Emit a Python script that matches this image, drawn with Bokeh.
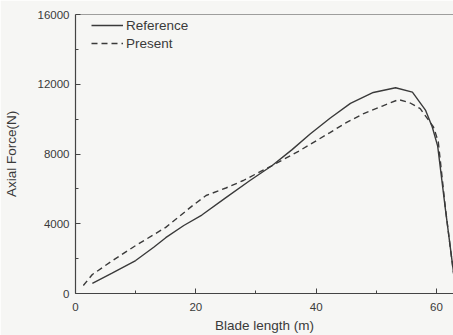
from bokeh.plotting import figure
from bokeh.models import Range1d, FixedTicker, Span, Legend, LegendItem
from bokeh.embed import file_html
from bokeh.resources import INLINE

# Data
ref_x = [2.8, 6, 10, 13, 15, 18, 21, 25, 29, 32.7, 36, 39, 42.3, 45.7, 49.5, 53.2, 56, 58.2, 59.3, 60.2, 61.5, 62.8, 63.3]
ref_y = [580, 1150, 1890, 2650, 3200, 3900, 4500, 5500, 6480, 7340, 8250, 9150, 10050, 10900, 11530, 11800, 11550, 10500, 9550, 8450, 4800, 1300, 0]

pres_x = [1.3, 2.8, 6, 10, 15, 19.5, 21.7, 25, 27.9, 30, 32.7, 37.3, 42.3, 45, 47.9, 51, 53.7, 55.5, 57.3, 59.5, 60.3, 61.5, 62.8, 63.3]
pres_y = [460, 1090, 1850, 2750, 3790, 5050, 5620, 6050, 6480, 6860, 7340, 8200, 9230, 9800, 10320, 10750, 11120, 10950, 10600, 9550, 8700, 4850, 1250, 0]

x_major = [0, 20, 40, 60]
x_minor = [10, 30, 50]
y_major = [0, 4000, 8000, 12000, 16000]
y_minor = [2000, 6000, 10000, 14000]

FONT = "Liberation Sans"
INK = "#3a3a3a"
BG = "#f6f6f4"

p = figure(width=453, height=335, output_backend="svg", toolbar_location=None,
           x_range=Range1d(0, 62.83), y_range=Range1d(0, 16000),
           min_border_top=14, min_border_right=0, min_border_left=0, min_border_bottom=0)
p.background_fill_color = BG
p.border_fill_color = BG
p.outline_line_color = None
p.grid.visible = False

r_ref = p.line(ref_x, ref_y, line_color=INK, line_width=1.4)
r_pres = p.line(pres_x, pres_y, line_color=INK, line_width=1.4, line_dash="6 4")

p.xaxis.ticker = FixedTicker(ticks=x_major, minor_ticks=x_minor)
p.yaxis.ticker = FixedTicker(ticks=y_major, minor_ticks=y_minor)

for ax in (p.xaxis[0], p.yaxis[0]):
    ax.axis_line_color = "#444444"
    ax.axis_line_width = 1.2
    ax.major_tick_in = 5
    ax.major_tick_out = 0
    ax.minor_tick_in = 3
    ax.minor_tick_out = 0
    ax.major_tick_line_color = "#444444"
    ax.minor_tick_line_color = "#444444"
    ax.major_label_text_font = FONT
    ax.major_label_text_font_size = "11.5px"
    ax.major_label_text_color = INK
    ax.axis_label_text_font = FONT
    ax.axis_label_text_font_size = "13.5px"
    ax.axis_label_text_font_style = "normal"
    ax.axis_label_text_color = INK

p.xaxis.axis_label = "Blade length (m)"
p.yaxis.axis_label = "Axial Force(N)"
p.xaxis.major_label_standoff = 9
p.xaxis.axis_label_standoff = 4
p.yaxis.major_label_standoff = 6
p.yaxis.axis_label_standoff = 16

top = Span(location=16000, dimension="width", line_color="#444444", line_width=1.2)
p.add_layout(top)

legend = Legend(items=[LegendItem(label="Reference", renderers=[r_ref]),
                       LegendItem(label="Present", renderers=[r_pres])],
                location=(16, 241), padding=1, margin=0, spacing=0,
                glyph_width=32, glyph_height=18, label_height=18, label_standoff=3,
                background_fill_alpha=0, border_line_color=None,
                label_text_font=FONT, label_text_font_size="13.5px", label_text_color=INK)
p.add_layout(legend)

open("out.html", "w").write(file_html(p, INLINE))
